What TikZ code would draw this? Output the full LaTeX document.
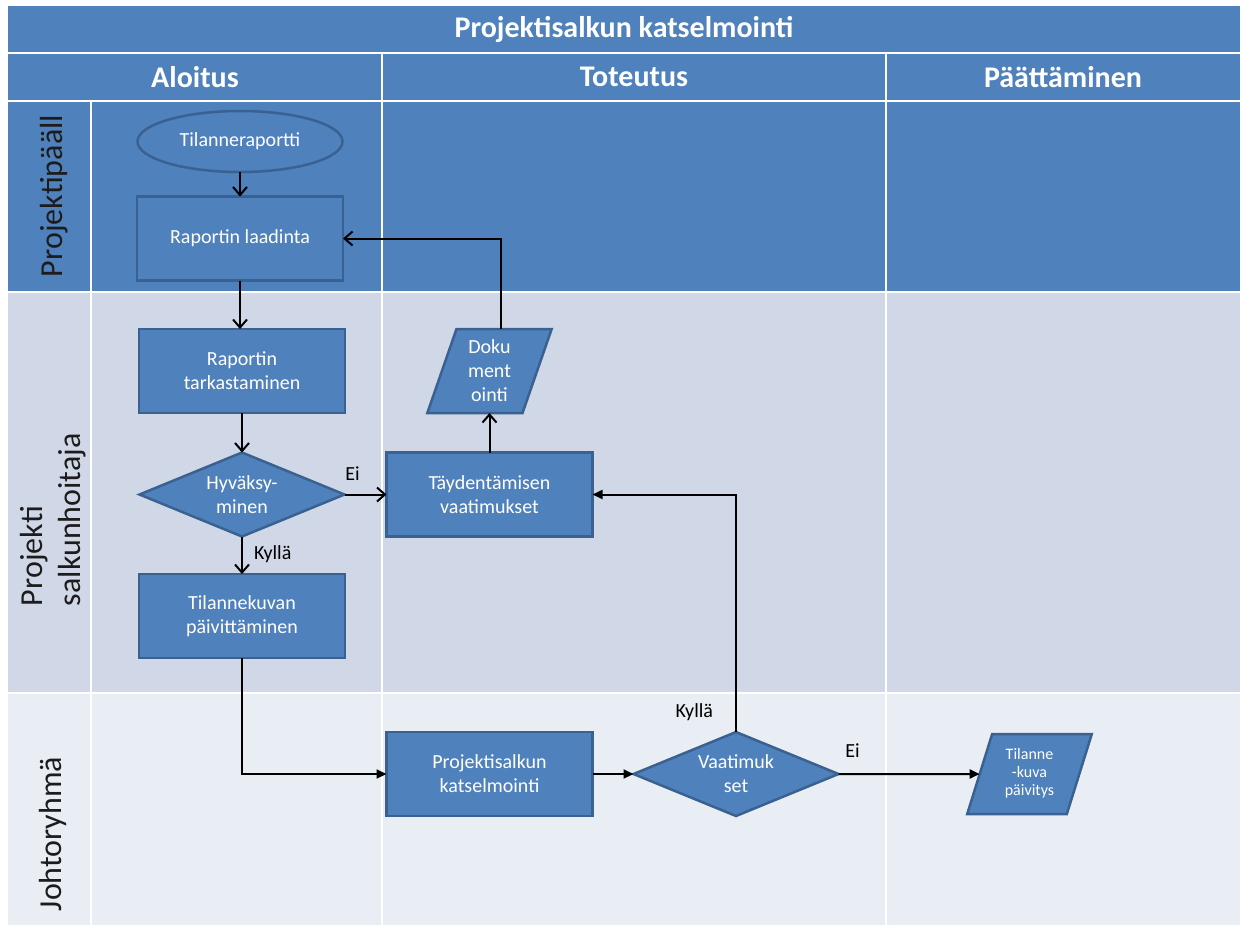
\documentclass[tikz,border=0pt]{standalone}
\usepackage{fontspec}
\setmainfont{Carlito}
\usetikzlibrary{shapes.geometric,arrows.meta,calc}
\definecolor{hdrblue}{HTML}{4F81BD}
\definecolor{edgeblue}{HTML}{3A6190}
\definecolor{lanemid}{HTML}{D0D8E8}
\definecolor{lanelight}{HTML}{E9EDF4}
\definecolor{labelink}{HTML}{1C1C1C}

\begin{document}
\begin{tikzpicture}[x=1pt,y=-1pt,
  every node/.style={inner sep=0pt,outer sep=0pt},
  shapebase/.style={draw=edgeblue,line width=2.5pt,fill=hdrblue,text=white,
    align=center,font=\fontsize{20}{24}\selectfont},
  box/.style={shapebase,rectangle,minimum width=206pt,minimum height=84pt},
  oval/.style={shapebase,ellipse,minimum width=205pt,minimum height=61pt},
  decision/.style={shapebase,diamond,shape aspect=2.44,minimum width=205pt,minimum height=84pt},
  datashape/.style={shapebase,trapezium,trapezium left angle=73,trapezium right angle=107,
    trapezium stretches=true,minimum width=125pt},
  hdr/.style={text=white,font=\fontsize{30}{36}\selectfont\bfseries},
  lanelbl/.style={text=labelink,rotate=90,font=\fontsize{32}{38}\selectfont},
  lbl/.style={text=black,font=\fontsize{20}{24}\selectfont},
  conn/.style={draw=black,line width=2pt},
  openv/.style={conn,-{Straight Barb[length=8pt,width=14pt]}},
  solidtip/.style={conn,-{Triangle[length=10pt,width=9pt]}},
  grid/.style={draw=white,line width=2pt}
]
\useasboundingbox (0,0) rectangle (1244,927);

% swimlane backgrounds
\fill[hdrblue] (8,6) rectangle (1240,292);
\fill[lanemid] (8,292) rectangle (1240,693);
\fill[lanelight] (8,693) rectangle (1240,925);

% grid lines
\draw[grid] (8,53) -- (1240,53);
\draw[grid] (8,101) -- (1240,101);
\draw[grid] (8,292) -- (1240,292);
\draw[grid] (8,693) -- (1240,693);
\draw[grid] (382,53) -- (382,925);
\draw[grid] (886,53) -- (886,925);
\draw[grid] (91,101) -- (91,925);

% headers
\node[hdr] (title) at (624,29.5) {Projektisalkun katselmointi};
\node[hdr] (ph1) at (195,77) {Aloitus};
\node[hdr] (ph2) at (634,77) {Toteutus};
\node[hdr] (ph3) at (1063,77) {Päättäminen};

% lane labels
\node[lanelbl] (lane1) at (54,196) {Projektipääll};
\node[lanelbl,anchor=west,align=left] (lane2) at (53,606) {Projekti\\salkunhoitaja};
\node[lanelbl] (lane3) at (53,834) {Johtoryhmä};

% flow shapes
\node[oval] (ell) at (240,141.5) {Tilanneraportti};
\node[box] (rl) at (240,238.5) {Raportin laadinta};
\node[box] (rt) at (242,371) {Raportin\\tarkastaminen};
\node[decision] (hyv) at (242,494.5) {Hyväksy-\\minen};
\node[box] (tp) at (242,616) {Tilannekuvan\\päivittäminen};
\node[datashape,minimum height=84pt] (doc) at (489.5,371) {Doku\\ment\\ointi};
\node[box] (tv) at (489.5,494.5) {Täydentämisen\\vaatimukset};
\node[box] (pk) at (489.5,774) {Projektisalkun\\katselmointi};
\node[decision] (vaat) at (736,774) {Vaatimuk\\set};
\node[datashape,minimum height=80pt] (tkp) at (1029.5,774)
  {\raisebox{10pt}{\fontsize{16}{18}\selectfont\begin{tabular}{@{}c@{}}Tilanne\\-kuva\\päivitys\end{tabular}}};

% connectors
\draw[openv] (ell.south) -- (rl.north);
\draw[openv] (rl.south) -- (rl.south |- rt.north);
\draw[openv] (rt.south) -- (hyv.north);
\draw[openv] (hyv.east) -- node[lbl,pos=0.19,above=14pt] (ei1) {Ei} (tv.west);
\draw[openv] (hyv.south) -- node[lbl,pos=0.46,right=12pt] (ky1) {Kyllä} (tp.north);
\draw[solidtip] (tp.south) |- (pk.west);
\draw[solidtip] (pk.east) -- (vaat.west);
\draw[solidtip] (vaat.north) |- node[lbl,pos=0.042,left=23pt] (ky2) {Kyllä} (tv.east);
\draw[solidtip] (vaat.east) -- node[lbl,pos=0.1,above=17pt] (ei2) {Ei} (tkp.west);
\draw[openv] (tv.north) -- (doc.south);
\draw[openv] ($(doc.north)+(11,0)$) |- (rl.east);
\end{tikzpicture}
\end{document}
